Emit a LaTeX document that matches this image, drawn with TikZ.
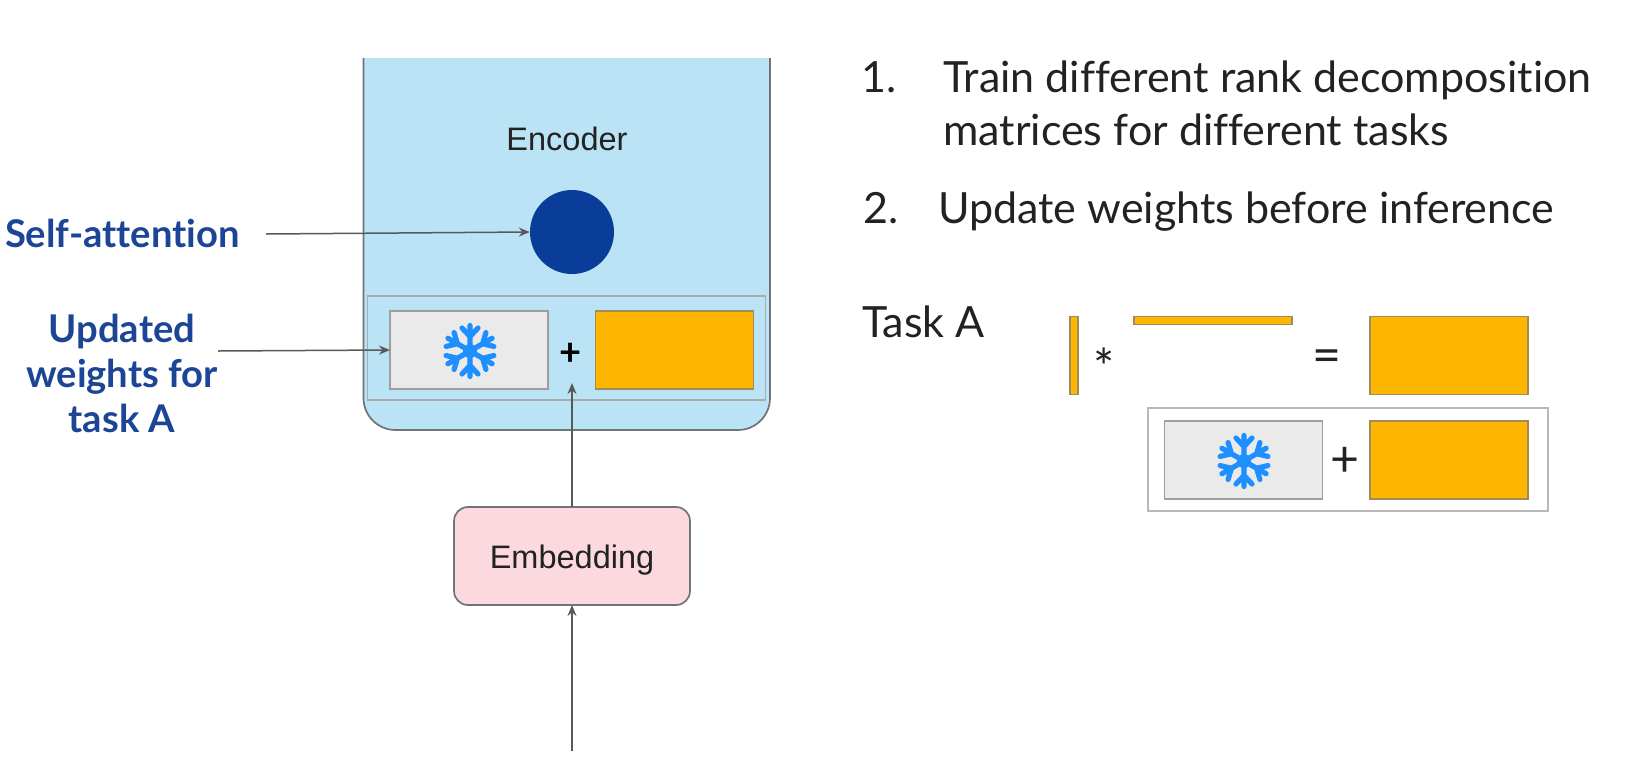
\documentclass[tikz,border=0pt]{standalone}
\usepackage{fontspec}
\setmainfont{Lato}[Ligatures=NoCommon]
\newfontfamily\arialf{Liberation Sans}
\usetikzlibrary{arrows.meta}
\definecolor{encblue}{HTML}{BBE3F6}
\definecolor{edgegray}{HTML}{6F7477}
\definecolor{arrowgray}{HTML}{595959}
\definecolor{darkdot}{HTML}{0A3D99}
\definecolor{pinkbox}{HTML}{FCD9DE}
\definecolor{orangebox}{HTML}{FFB600}
\definecolor{orangeedge}{HTML}{A08C5A}
\definecolor{greybox}{HTML}{EAEAEA}
\definecolor{labelblue}{HTML}{1C4596}
\definecolor{flakeblue}{HTML}{1E8FFF}
\definecolor{inktext}{HTML}{222222}
\tikzset{
  x=1pt,y=-1pt,
  plainbox/.style={rectangle,inner sep=0pt,outer sep=0pt,line width=1.3pt},
  frozen/.style={plainbox,fill=greybox,draw=black!38,minimum width=158pt,minimum height=78pt},
  orangefill/.style={plainbox,fill=orangebox,draw=orangeedge,minimum width=158pt,minimum height=78pt},
  thinbar/.style={plainbox,fill=orangebox,draw=orangeedge},
  arrowline/.style={draw=arrowgray,line width=1.5pt,-{Stealth[length=11pt,width=9pt]}},
  slidetext/.style={anchor=base west,inner sep=0pt,font=\fontsize{43}{43}\selectfont,text=inktext},
  sidelabel/.style={anchor=base,inner sep=0pt,font=\fontsize{38.2}{38.2}\selectfont\bfseries,text=labelblue},
  diagramtext/.style={inner sep=0pt,font=\arialf\fontsize{32.5}{32.5}\selectfont,text=inktext},
  flake/.pic={
    \foreach \a in {30,90,150,210,270,330}{
      \draw[flakeblue,line width=5.2pt,line cap=round,rotate=\a]
        (0,0) -- (25.5,0) (14.5,0) -- (23,-8) (14.5,0) -- (23,8);
    }
    \fill[flakeblue] (0,0) circle (7);
  },
}
\begin{document}
\begin{tikzpicture}
\useasboundingbox[fill=white] (0,0) rectangle (1633,772);

% encoder body, open at the top
\fill[encblue,rounded corners=32pt] (363.5,20) -- (363.5,430) -- (770,430) -- (770,20) -- cycle;
\fill[white] (340,0) rectangle (790,58);
\draw[edgegray,line width=1.7pt,rounded corners=32pt] (363.5,58) -- (363.5,430) -- (770,430) -- (770,58);
\node[diagramtext] (enc) at (567,139) {Encoder};

\node[plainbox,draw=edgegray!60,line width=1.2pt,minimum width=398pt,minimum height=104pt] (weights) at (566.5,348) {};
\node[circle,fill=darkdot,inner sep=0pt,minimum size=84pt] (attn) at (572,232) {};
\node[frozen] (frozenL) at (469,350) {};
\pic at (470,351) {flake};
\node[orangefill] (orangeL) at (674.5,350) {};
\node[inner sep=0pt,font=\fontsize{38}{38}\selectfont\bfseries,text=black] (plusL) at (571,354) {+};

\node[plainbox,rounded corners=14pt,fill=pinkbox,draw=edgegray,line width=1.7pt,minimum width=236pt,minimum height=98pt] (emb) at (572,556) {};
\node[diagramtext] (embtext) at (572,560) {Embedding};

% left labels
\node[sidelabel] (selfatt) at (122.5,247.5) {Self-attention};
\node[sidelabel] (upd1) at (122,342) {Updated};
\node[sidelabel] (upd2) at (122,387) {weights for};
\node[sidelabel] (upd3) at (122,432) {task A};

% connectors
\coordinate (selfstart) at (266,234);
\coordinate (updstart) at (218,351);
\coordinate (plusin) at (572,383);
\coordinate (inputstart) at (572,751);
\draw[arrowline] (selfstart) -- (attn.west);
\draw[arrowline] (updstart) -- (frozenL.west);
\draw[arrowline] (emb.north) -- (plusin);
\draw[arrowline] (inputstart) -- (emb.south);

% right text
\node[slidetext] (n1) at (861,92) {1.};
\node[slidetext] (t1) at (943,92) {Train different rank decomposition};
\node[slidetext] (t1b) at (943,145) {matrices for different tasks};
\node[slidetext] (n2) at (863,223) {2.};
\node[slidetext] (t2) at (938,223) {Update weights before inference};
\node[slidetext] (task) at (862,337) {Task A};

% equation
\node[thinbar,minimum width=8pt,minimum height=78pt] (vbar) at (1074,355.5) {};
\node[thinbar,minimum width=158pt,minimum height=8pt] (hbar) at (1213,320.5) {};
\node[inner sep=0pt,font=\fontsize{50}{50}\selectfont,text=inktext] (star) at (1104,367) {*};
\node[inner sep=0pt,font=\fontsize{50}{50}\selectfont,text=inktext] (equals) at (1327,361) {=};
\node[orangefill,minimum height=78pt] (orangeR) at (1449,355.5) {};
\node[plainbox,draw=black!28,fill=white,minimum width=400pt,minimum height=103pt] (sumbox) at (1348,459.5) {};
\node[frozen] (frozenR) at (1243.5,460) {};
\pic at (1244,461) {flake};
\node[inner sep=0pt,font=\fontsize{50}{50}\selectfont,text=inktext] (plusR) at (1345,462) {+};
\node[orangefill] (orangeS) at (1449,460) {};
\end{tikzpicture}
\end{document}
